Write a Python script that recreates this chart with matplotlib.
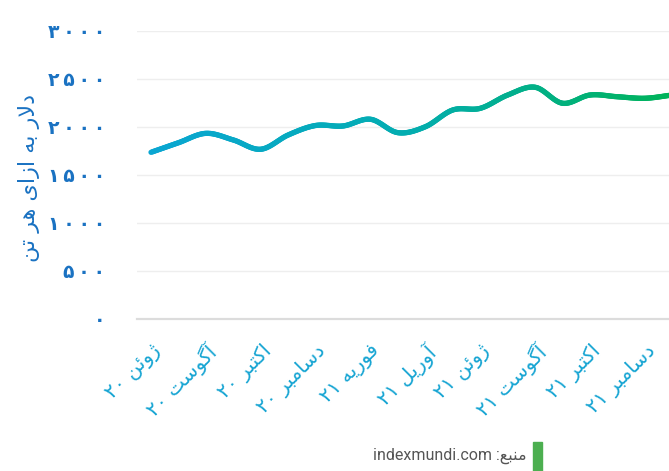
import numpy as np
import matplotlib
matplotlib.use("Agg")
import matplotlib.pyplot as plt
from matplotlib.collections import LineCollection
from matplotlib.colors import LinearSegmentedColormap

# monthly price, USD per tonne (Jun 2020 .. Jan 2022)
prices = [1734, 1834, 1932, 1863, 1766, 1915, 2014, 2009, 2079, 1939,
          2001, 2176, 2193, 2332, 2413, 2246, 2332, 2314, 2298, 2332]
tick_pos = [0, 2, 4, 6, 8, 10, 12, 14, 16, 18]
tick_names = ["ژوئن ۲۰", "آگوست ۲۰", "اکتبر ۲۰", "دسامبر ۲۰", "فوریه ۲۱",
              "آوریل ۲۱", "ژوئن ۲۱", "آگوست ۲۱", "اکتبر ۲۱", "دسامبر ۲۱"]
y_ticks = [0, 500, 1000, 1500, 2000, 2500, 3000]
y_title = "دلار به ازای هر تن"
source = "منبع: indexmundi.com"

# --- tiny arabic/persian shaper: (isolated, final, initial, medial) ---
FORMS = {
    "ا": (0xFE8D, 0xFE8E, None, None), "آ": (0xFE81, 0xFE82, None, None),
    "ب": (0xFE8F, 0xFE90, 0xFE91, 0xFE92), "ت": (0xFE95, 0xFE96, 0xFE97, 0xFE98),
    "د": (0xFEA9, 0xFEAA, None, None), "ر": (0xFEAD, 0xFEAE, None, None),
    "ز": (0xFEAF, 0xFEB0, None, None), "ژ": (0xFB8A, 0xFB8B, None, None),
    "س": (0xFEB1, 0xFEB2, 0xFEB3, 0xFEB4), "ع": (0xFEC9, 0xFECA, 0xFECB, 0xFECC),
    "ف": (0xFED1, 0xFED2, 0xFED3, 0xFED4), "ک": (0xFB8E, 0xFB8F, 0xFB90, 0xFB91),
    "گ": (0xFB92, 0xFB93, 0xFB94, 0xFB95), "ل": (0xFEDD, 0xFEDE, 0xFEDF, 0xFEE0),
    "م": (0xFEE1, 0xFEE2, 0xFEE3, 0xFEE4), "ن": (0xFEE5, 0xFEE6, 0xFEE7, 0xFEE8),
    "ه": (0xFEE9, 0xFEEA, 0xFEEB, 0xFEEC), "و": (0xFEED, 0xFEEE, None, None),
    "ی": (0xFBFC, 0xFBFD, 0xFBFE, 0xFBFF), "ئ": (0xFE89, 0xFE8A, 0xFE8B, 0xFE8C),
}


def shape_word(w):
    # lam + alef ligature
    chars = []
    i = 0
    while i < len(w):
        if w[i] == "ل" and i + 1 < len(w) and w[i + 1] in "اآ":
            chars.append("LA" if w[i + 1] == "ا" else "LAA")
            i += 2
        else:
            chars.append(w[i])
            i += 1

    def dual(c):
        return c in FORMS and FORMS[c][2] is not None

    def joins(c):
        return c in FORMS or c in ("LA", "LAA")

    out = []
    for k, c in enumerate(chars):
        prev = chars[k - 1] if k > 0 else None
        nxt = chars[k + 1] if k + 1 < len(chars) else None
        from_prev = prev is not None and dual(prev) and joins(c)
        if c in ("LA", "LAA"):
            base = 0xFEFB if c == "LA" else 0xFEF5
            out.append(chr(base + (1 if from_prev else 0)))
            continue
        if c not in FORMS:
            out.append(c)
            continue
        to_next = dual(c) and nxt is not None and joins(nxt)
        iso, fin, ini, med = FORMS[c]
        if from_prev and to_next:
            out.append(chr(med))
        elif from_prev:
            out.append(chr(fin))
        elif to_next:
            out.append(chr(ini))
        else:
            out.append(chr(iso))
    return "".join(out)


def rtl(text):
    words = text.split(" ")
    vis = []
    for w in reversed(words):
        if any(ch in FORMS for ch in w):
            vis.append(shape_word(w)[::-1])
        else:
            vis.append(w)
    return " ".join(vis)


def fa_digits(n, sep=""):
    s = str(n).translate(str.maketrans("0123456789", "۰۱۲۳۴۵۶۷۸۹"))
    return sep.join(s)


def catmull_rom(x, y, steps=20):
    # smooth path through the monthly points
    x = np.asarray(x, float)
    y = np.asarray(y, float)
    px = np.concatenate([[2 * x[0] - x[1]], x, [2 * x[-1] - x[-2]]])
    py = np.concatenate([[2 * y[0] - y[1]], y, [2 * y[-1] - y[-2]]])
    t = np.linspace(0, 1, steps, endpoint=False)
    xs, ys = [], []
    for i in range(1, len(px) - 2):
        for arr, out in ((px, xs), (py, ys)):
            p0, p1, p2, p3 = arr[i - 1], arr[i], arr[i + 1], arr[i + 2]
            out.extend(0.5 * (2 * p1 + (-p0 + p2) * t
                              + (2 * p0 - 5 * p1 + 4 * p2 - p3) * t ** 2
                              + (-p0 + 3 * p1 - 3 * p2 + p3) * t ** 3))
    xs.append(x[-1])
    ys.append(y[-1])
    return np.array(xs), np.array(ys)


plt.rcParams["font.family"] = ["DejaVu Sans"]

fig = plt.figure(figsize=(6.69, 4.71), dpi=100)
ax = fig.add_axes([137 / 669, 152.5 / 471, 532 / 669, 287.5 / 471])

months = np.arange(len(prices))
sx, sy = catmull_rom(months, prices)
pts = np.column_stack([sx, sy]).reshape(-1, 1, 2)
segs = np.concatenate([pts[:-1], pts[1:]], axis=1)
cmap = LinearSegmentedColormap.from_list("bg", ["#0aa6d2", "#03adb0", "#00b35a"])
lc = LineCollection(segs, cmap=cmap, norm=plt.Normalize(0, 19),
                    linewidth=3.8, capstyle="round", joinstyle="round")
lc.set_array((sx[:-1] + sx[1:]) / 2)
ax.add_collection(lc)

ax.set_xlim(-0.51, 18.88)
ax.set_ylim(0, 3000)

ax.set_yticks(y_ticks)
ax.set_yticklabels([fa_digits(v, "\u2009") for v in y_ticks], fontsize=13.5,
                   color="#1a72c2", fontweight="bold")
ax.set_xticks(tick_pos)
ax.set_xticklabels([rtl(s) for s in tick_names], rotation=45, ha="right",
                   rotation_mode="anchor", fontsize=14.5, color="#17a5d3")
ax.tick_params(axis="y", length=0, pad=23)
ax.tick_params(axis="x", length=0, pad=16)

ax.grid(axis="y", color="#eeeeee", linewidth=1)
ax.set_axisbelow(True)
for side in ("top", "right", "left"):
    ax.spines[side].set_visible(False)
ax.spines["bottom"].set_color("#dcdcdc")
ax.spines["bottom"].set_linewidth(1.6)

fig.text(29 / 669, 1 - 178 / 471, rtl(y_title), rotation=90, fontsize=16,
         color="#1a72c2", ha="center", va="center")

fig.text(527 / 669, 1 - 456 / 471, rtl(source), fontsize=11.5, color="#555555",
         ha="right", va="center", family=["Roboto", "DejaVu Sans"])
fig.patches.append(plt.Rectangle((533 / 669, 0), 9 / 669, 29 / 471,
                                 transform=fig.transFigure, color="#4caf50"))

fig.savefig("out.png", dpi=100)
